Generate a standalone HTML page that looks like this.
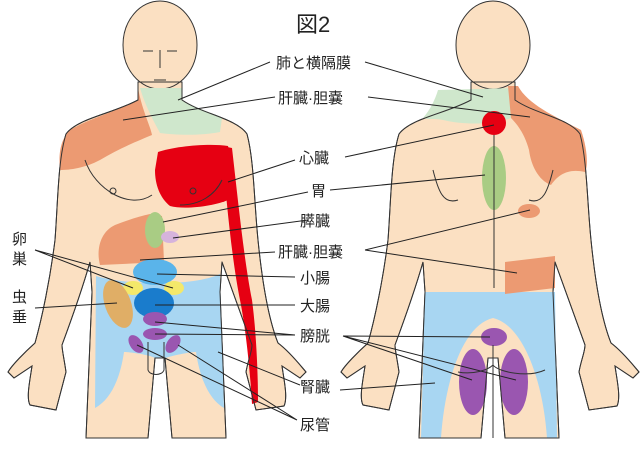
<!DOCTYPE html>
<html><head><meta charset="utf-8"><style>
html,body{margin:0;padding:0;background:#fff;width:644px;height:476px;overflow:hidden}
svg{display:block}
text{font-family:"Liberation Sans","Noto Sans CJK JP",sans-serif;fill:#222}
</style></head><body>
<svg width="644" height="476" viewBox="0 0 644 476" xmlns="http://www.w3.org/2000/svg">
<defs>
<path id="body" d="M138,82 L138,100 C112,114 78,118 66,134 C58,160 58,200 55,240 C50,280 42,318 35,343 C25,352 12,365 8,372 L14,378 L32,366 C30,380 26,398 30,405 L56,410 L66,372 C64,358 62,350 62,345 C72,318 82,290 90,262 L92,292 L86,438 L148,438 L155,358 L165,358 L172,438 L226,438 L220,292 L222,262 C232,290 242,318 252,345 C252,352 248,360 246,372 L256,410 L284,406 C288,398 284,380 282,366 L300,378 L306,372 C300,365 290,352 278,343 C268,318 262,280 258,240 C254,200 254,160 247,134 C236,118 202,114 182,100 L182,82 Z"/>
</defs>
<!-- FRONT -->
<g stroke="#333" stroke-width="1" fill="#fbe0c2">
<use href="#body"/>
<ellipse cx="160" cy="45" rx="37" ry="44"/>
</g>
<!-- pants blue front -->
<path d="M96,276 C130,286 195,286 220,274 L224,408 C210,400 200,380 196,352 C190,352 175,355 165,358 L155,358 C150,355 130,352 124,352 C120,380 110,400 95,408 Z" fill="#a8d6f2"/>
<!-- shoulder/neck -->
<path d="M138,88 C142,110 150,125 152,135 C140,140 120,148 100,160 C85,168 70,170 60,170 C58,150 62,138 70,130 C90,118 115,112 138,100 Z" fill="#ec9a72"/>
<path d="M140,88 L182,88 L182,100 C195,108 210,112 222,118 L220,132 C200,136 175,135 160,133 C153,120 145,105 140,88 Z" fill="#cfe7cc"/>
<!-- red -->
<path d="M158,152 C175,146 210,143 228,146 C232,160 230,185 228,200 C215,206 185,210 170,206 C160,198 155,185 155,170 Z" fill="#e60012"/>
<path d="M222,146 L232,148 C238,200 244,260 252,300 C256,330 258,370 258,402 L252,404 C250,370 246,330 240,300 C232,260 226,200 222,146 Z" fill="#e60012"/>
<!-- liver front -->
<path d="M150,214 L162,216 L164,262 L100,265 C96,250 100,232 115,225 C128,220 140,216 150,214 Z" fill="#ec9a72"/>
<ellipse cx="155" cy="230" rx="10" ry="18" fill="#a9cc84"/>
<ellipse cx="170" cy="237" rx="9" ry="6" fill="#d6b3dc"/>
<ellipse cx="155" cy="272" rx="22" ry="13" fill="#5ab4ea"/>
<ellipse cx="133" cy="288" rx="10" ry="7" fill="#f4e86a"/>
<ellipse cx="174" cy="288" rx="10" ry="7" fill="#f4e86a"/>
<ellipse cx="118" cy="304" rx="13" ry="25" transform="rotate(-20 118 304)" fill="#e0ae66"/>
<ellipse cx="154" cy="303" rx="20" ry="15" fill="#1a7ccc"/>
<ellipse cx="155" cy="319" rx="12" ry="7" fill="#9a56b0"/>
<ellipse cx="155" cy="334" rx="12" ry="6" fill="#9a56b0"/>
<ellipse cx="136" cy="344" rx="6" ry="10" transform="rotate(-35 136 344)" fill="#9a56b0"/>
<ellipse cx="173" cy="344" rx="6" ry="10" transform="rotate(35 173 344)" fill="#9a56b0"/>
<g fill="none" stroke="#333" stroke-width="1">
<use href="#body"/>
<path d="M148,342 L148,370 C150,376 162,376 164,370 L164,342"/>
<path d="M85,160 C95,190 130,210 152,195"/><path d="M180,205 C200,205 215,195 222,180"/>
<circle cx="113" cy="191" r="3"/><circle cx="193" cy="191" r="3"/>
<path d="M143,51 l10,0 M167,51 l10,0 M160,50 L160,68 M154,80 l12,0"/>
</g>
<!-- BACK -->
<g transform="translate(333,0)">
<g stroke="#333" stroke-width="1" fill="#fbe0c2">
<use href="#body"/>
<ellipse cx="160" cy="45" rx="37" ry="44"/>
</g>
<path d="M92,292 L222,292 L224,438 L214,438 C210,380 190,325 160,318 C130,325 112,380 108,438 L88,438 Z" fill="#a8d6f2"/>
<path d="M105,90 L182,88 L178,118 C160,125 130,125 110,120 C100,118 95,120 90,118 C97,110 102,100 105,90 Z" fill="#cfe7cc"/>
<path d="M175,86 L185,86 C195,105 225,118 248,130 C255,150 255,168 252,172 C235,168 225,175 218,185 C205,180 198,165 196,150 C192,135 185,125 178,118 Z" fill="#ec9a72"/>
<ellipse cx="196" cy="211" rx="11" ry="7" fill="#ec9a72"/>
<path d="M172,262 L222,256 L222,288 L172,294 Z" fill="#ec9a72"/>
<circle cx="161" cy="123" r="12" fill="#e60012"/>
<ellipse cx="161" cy="178" rx="12" ry="32" fill="#a9cc84"/>
<ellipse cx="161" cy="337" rx="13" ry="9" fill="#9a56b0"/>
<ellipse cx="140" cy="382" rx="14" ry="33" fill="#9a56b0"/>
<ellipse cx="181" cy="382" rx="14" ry="33" fill="#9a56b0"/>
<g fill="none" stroke="#333" stroke-width="1">
<use href="#body"/>
<line x1="161" y1="135" x2="161" y2="288"/>
<path d="M100,170 C105,190 110,205 125,200"/><path d="M220,170 C215,190 210,205 196,200"/>
<path d="M160,345 L160,438 M125,372 C140,375 155,370 160,365 C165,372 195,378 212,370"/>
</g>
</g>
<!-- connectors -->
<g stroke="#222" stroke-width="1" fill="none">
<path d="M270,62 L178,100 M365,62 L483,97"/>
<path d="M275,97 L123,120 M368,97 L530,117"/>
<path d="M295,160 L228,182 M345,157 L494,125"/>
<path d="M308,192 L163,222 M330,190 L485,175"/>
<path d="M308,220 L173,238"/>
<path d="M275,252 L140,260 M365,250 L530,210 M365,250 L517,273"/>
<path d="M295,277 L157,274"/>
<path d="M295,305 L155,305"/>
<path d="M295,335 L155,322 M295,335 L155,334 M343,336 L490,337 M343,336 L472,380 M343,336 L516,380"/>
<path d="M300,385 L218,352 M340,390 L435,383"/>
<path d="M297,420 L137,345 M297,420 L178,345"/>
<path d="M35,250 L133,288 M35,250 L173,288"/>
<path d="M35,308 L117,303"/>
</g>
<!-- labels -->
<text x="296" y="32" font-size="22">図2</text>
<g font-size="15">
<text x="276" y="68">肺と横隔膜</text>
<text x="278" y="103">肝臓·胆嚢</text>
<text x="299" y="163">心臓</text>
<text x="311" y="196">胃</text>
<text x="300" y="226">膵臓</text>
<text x="278" y="257">肝臓·胆嚢</text>
<text x="300" y="283">小腸</text>
<text x="300" y="311">大腸</text>
<text x="300" y="341">膀胱</text>
<text x="300" y="392">腎臓</text>
<text x="300" y="430">尿管</text>
<text x="12" y="244">卵</text>
<text x="12" y="264">巣</text>
<text x="12" y="302">虫</text>
<text x="12" y="322">垂</text>
</g>
</svg>
</body></html>
